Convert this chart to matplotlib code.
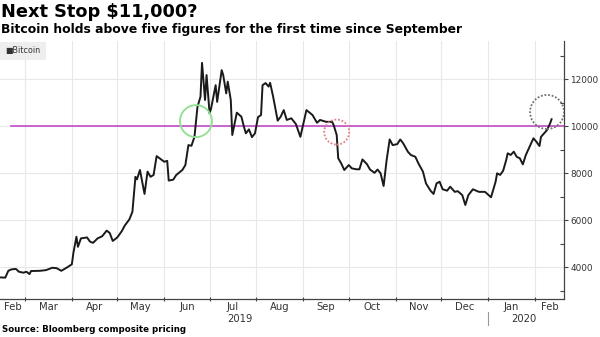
import matplotlib
matplotlib.use("Agg")
import matplotlib.pyplot as plt
import matplotlib.dates as mdates
from matplotlib.patches import Ellipse, Rectangle
import numpy as np
import datetime as dt

plt.rcParams['font.family'] = ['DejaVu Sans']

# ---------------- data ----------------
dates = [
    "2019-02-12", "2019-02-16", "2019-02-18", "2019-02-20", "2019-02-23", "2019-02-25", "2019-02-28",
    "2019-03-02", "2019-03-04", "2019-03-05", "2019-03-11", "2019-03-15", "2019-03-19", "2019-03-22",
    "2019-03-25", "2019-03-29", "2019-04-01", "2019-04-02", "2019-04-04", "2019-04-05", "2019-04-07",
    "2019-04-11", "2019-04-13", "2019-04-15", "2019-04-18", "2019-04-21", "2019-04-24", "2019-04-26",
    "2019-04-28", "2019-05-01", "2019-05-04", "2019-05-06", "2019-05-09", "2019-05-11", "2019-05-13",
    "2019-05-14", "2019-05-16", "2019-05-19", "2019-05-21", "2019-05-23", "2019-05-25", "2019-05-27",
    "2019-05-30", "2019-06-01", "2019-06-03", "2019-06-04", "2019-06-07", "2019-06-09", "2019-06-13",
    "2019-06-15", "2019-06-17", "2019-06-19", "2019-06-21", "2019-06-23", "2019-06-25", "2019-06-26",
    "2019-06-28", "2019-06-29", "2019-07-01", "2019-07-02", "2019-07-05", "2019-07-06", "2019-07-09",
    "2019-07-10", "2019-07-12", "2019-07-13", "2019-07-15", "2019-07-16", "2019-07-19", "2019-07-22",
    "2019-07-24", "2019-07-25", "2019-07-27", "2019-07-29", "2019-07-31", "2019-08-02", "2019-08-04",
    "2019-08-05", "2019-08-07", "2019-08-09", "2019-08-10", "2019-08-12", "2019-08-15", "2019-08-17",
    "2019-08-19", "2019-08-21", "2019-08-24", "2019-08-27", "2019-08-30", "2019-09-01", "2019-09-03",
    "2019-09-07", "2019-09-10", "2019-09-12", "2019-09-16", "2019-09-20", "2019-09-21", "2019-09-23",
    "2019-09-24", "2019-09-26", "2019-09-28", "2019-10-01", "2019-10-03", "2019-10-06", "2019-10-08",
    "2019-10-10", "2019-10-13", "2019-10-15", "2019-10-18", "2019-10-20", "2019-10-22", "2019-10-24",
    "2019-10-26", "2019-10-28", "2019-10-30", "2019-11-02", "2019-11-04", "2019-11-06", "2019-11-09",
    "2019-11-11", "2019-11-14", "2019-11-16", "2019-11-19", "2019-11-21", "2019-11-24", "2019-11-26",
    "2019-11-28", "2019-11-30", "2019-12-02", "2019-12-05", "2019-12-07", "2019-12-10", "2019-12-12",
    "2019-12-15", "2019-12-17", "2019-12-19", "2019-12-22", "2019-12-26", "2019-12-30", "2020-01-03",
    "2020-01-06", "2020-01-07", "2020-01-09", "2020-01-11", "2020-01-13", "2020-01-14", "2020-01-16",
    "2020-01-18", "2020-01-20", "2020-01-22", "2020-01-24", "2020-01-26", "2020-01-28", "2020-01-31",
    "2020-02-02", "2020-02-04", "2020-02-05", "2020-02-08", "2020-02-09", "2020-02-11", "2020-02-12",
]
bitcoin = [
    3560, 3550, 3840, 3900, 3920, 3800, 3760,
    3800, 3700, 3830, 3840, 3870, 3970, 3950,
    3840, 3990, 4120, 4600, 5290, 4860, 5220,
    5260, 5080, 5030, 5220, 5310, 5550, 5450,
    5110, 5260, 5530, 5770, 6030, 6350, 7840,
    7730, 8130, 7110, 8060, 7840, 7920, 8720,
    8580, 8480, 8520, 7680, 7720, 7920, 8130,
    8340, 9190, 9160, 9540, 10820, 11250, 12690,
    11110, 12170, 10540, 10750, 11740, 11030, 12380,
    12170, 11390, 11890, 11110, 9620, 10570, 10400,
    9900, 9690, 9860, 9530, 9690, 10380, 10470,
    11740, 11830, 11680, 11840, 11250, 10230, 10400,
    10680, 10260, 10330, 10090, 9540, 10110, 10680,
    10470, 10140, 10260, 10180, 10180, 10040, 9620,
    8630, 8410, 8130, 8340, 8200, 8160, 8160,
    8580, 8380, 8150, 8010, 8150, 7990, 7450,
    8550, 9430, 9190, 9230, 9430, 9260, 8910,
    8770, 8690, 8410, 8060, 7560, 7250, 7110,
    7560, 7630, 7310, 7250, 7420, 7200, 7230,
    7060, 6640, 7060, 7310, 7200, 7200, 6970,
    7630, 7990, 7920, 8100, 8550, 8840, 8770,
    8910, 8690, 8630, 8370, 8770, 9050, 9480,
    9330, 9150, 9540, 9760, 9830, 10110, 10290,
]
threshold = 10000
month_labels = ["Feb", "Mar", "Apr", "May", "Jun", "Jul", "Aug", "Sep", "Oct", "Nov", "Dec", "Jan", "Feb"]
year_labels = ["2019", "2020"]
yticks = [4000, 6000, 8000, 10000, 12000]
# highlighted circles: (centre date, centre price)
circle_green = ("2019-06-22", 10210)
circle_red = ("2019-09-23", 9745)
circle_gray = ("2020-02-09", 10600)

# ---------------- figure ----------------
W, H = 600, 337
fig = plt.figure(figsize=(W / 100, H / 100), dpi=100)
ax_l, ax_r, ax_t, ax_b = 0, 564, 41, 299
ax = fig.add_axes([ax_l / W, 1 - ax_b / H, (ax_r - ax_l) / W, (ax_b - ax_t) / H])

x = [dt.datetime.strptime(d, "%Y-%m-%d") for d in dates]
xmin = dt.datetime(2019, 2, 12, 12)
xmax = dt.datetime(2020, 2, 20, 5)
ymin, ymax = 2640, 13620
ax.set_xlim(xmin, xmax)
ax.set_ylim(ymin, ymax)

# grid
month_starts = [dt.datetime(2019, m, 1) for m in range(3, 13)] + [dt.datetime(2020, 1, 1), dt.datetime(2020, 2, 1)]
for ms in month_starts:
    ax.axvline(ms, color='#e8e8e8', lw=0.8, zorder=0)
for yv in yticks:
    ax.axhline(yv, color='#e8e8e8', lw=0.8, zorder=0)

# threshold line
ax.axhline(threshold, xmin=11 / 564, xmax=1, color='#c04cc8', lw=1.2, zorder=2)

# price line
ax.plot(x, bitcoin, color='#1a1a1a', lw=1.4, zorder=3)

# circles (kept round in pixels)
axw_px = ax_r - ax_l
axh_px = ax_b - ax_t
days_per_px = (mdates.date2num(xmax) - mdates.date2num(xmin)) / axw_px
price_per_px = (ymax - ymin) / axh_px
def circ(c, r_px, color, ls, lw):
    cx = mdates.date2num(dt.datetime.strptime(c[0], "%Y-%m-%d"))
    e = Ellipse((cx, c[1]), 2 * r_px * days_per_px, 2 * r_px * price_per_px,
                fill=False, edgecolor=color, linestyle=ls, lw=lw, zorder=4)
    ax.add_patch(e)
circ(circle_green, 16, '#8fe08f', '-', 1.3)
circ(circle_red, 12.5, '#e08080', (0, (1, 1)), 1.3)
circ(circle_gray, 17, '#707070', (0, (1, 1)), 1.3)

# spines
for s in ['top', 'left']:
    ax.spines[s].set_visible(False)
ax.spines['right'].set_color('#444444')
ax.spines['bottom'].set_color('#444444')
ax.spines['right'].set_linewidth(0.9)
ax.spines['bottom'].set_linewidth(0.9)

# y axis on the right
ax.yaxis.tick_right()
ax.set_yticks(yticks)
ax.set_yticklabels([str(v) for v in yticks])
ax.set_yticks([3000, 5000, 7000, 9000, 11000, 13000], minor=True)
ax.tick_params(axis='y', which='major', direction='out', length=3, width=0.8, color='#444444',
               labelsize=6.4, labelcolor='#333333', pad=1.5)
ax.tick_params(axis='y', which='minor', direction='in', length=3, width=0.8, color='#444444')

# x axis ticks at month starts, labels centred in visible months
ax.set_xticks(month_starts)
ax.set_xticklabels([])
ax.tick_params(axis='x', which='major', direction='inout', length=3, width=0.8, color='#444444')
bounds = [xmin] + month_starts + [xmax]
trans = matplotlib.transforms.blended_transform_factory(ax.transData, ax.transAxes)
for i, lab in enumerate(month_labels):
    a = mdates.date2num(bounds[i]); b = mdates.date2num(bounds[i + 1])
    ax.text((a + b) / 2, -8 / axh_px, lab, transform=trans, ha='center', va='center',
            fontsize=7.2, color='#333333')
ax.text(mdates.date2num(dt.datetime(2019, 7, 21)), -19.5 / axh_px, year_labels[0], transform=trans,
        ha='center', va='center', fontsize=7.2, color='#333333')
ax.text(mdates.date2num(dt.datetime(2020, 1, 25)), -19.5 / axh_px, year_labels[1], transform=trans,
        ha='center', va='center', fontsize=7.2, color='#333333')
ax.plot([dt.datetime(2020, 1, 1)] * 2, [-13 / axh_px, -26 / axh_px], transform=trans,
        color='#999999', lw=0.8, clip_on=False)

# legend box
fig.patches.append(Rectangle((0, 1 - 60 / H), 46 / W, 18 / H, transform=fig.transFigure,
                             facecolor='#eeeeee', edgecolor='none', zorder=5))
fig.text(5 / W, 1 - 51 / H, "\u25A0Bitcoin", fontsize=5.8, color='#333333', va='center', ha='left', zorder=6)

# titles and source
fig.text(1 / W, 1 - 3 / H, "Next Stop $11,000?", fontsize=12.8, fontweight='bold', va='top', ha='left')
fig.text(1 / W, 1 - 23 / H, "Bitcoin holds above five figures for the first time since September",
         fontsize=8.9, fontweight='bold', va='top', ha='left')
fig.text(2 / W, 1 - 330 / H, "Source: Bloomberg composite pricing", fontsize=6.2, fontweight='bold',
         va='center', ha='left')

fig.savefig("out.png", dpi=100)
